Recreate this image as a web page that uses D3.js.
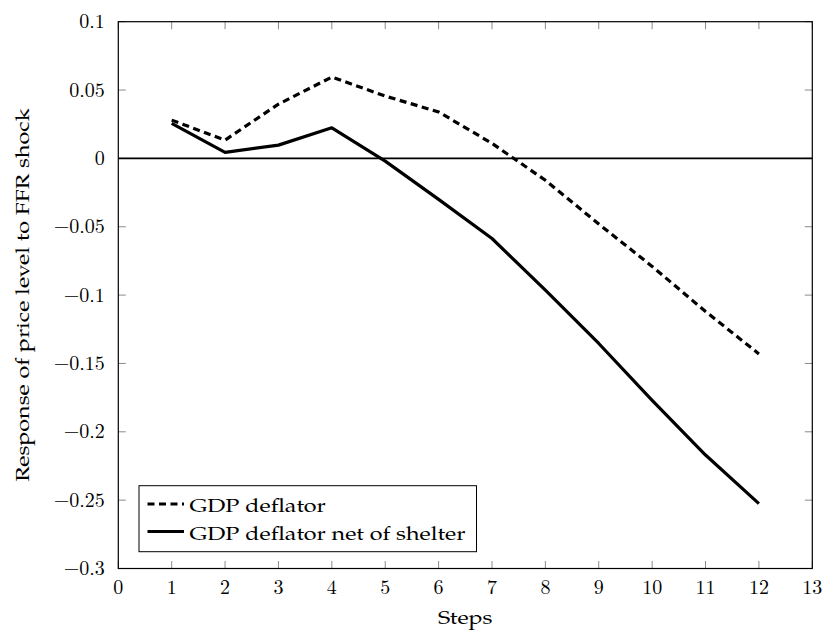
<!DOCTYPE html>
<html><head><meta charset="utf-8">
<script src="https://cdn.jsdelivr.net/npm/d3@7"></script>
<style>body{margin:0;background:#fff}</style>
</head><body>
<svg id="c" width="828" height="630"></svg>
<script>
const steps = [1,2,3,4,5,6,7,8,9,10,11,12];
const gdpDeflator = [0.028,0.0134,0.0397,0.0595,0.0456,0.034,0.011,-0.016,-0.048,-0.079,-0.112,-0.143];
const gdpNetShelter = [0.0256,0.0044,0.0097,0.0224,-0.002,-0.030,-0.0586,-0.0964,-0.1354,-0.177,-0.217,-0.2525];
const xTicks = d3.range(0,14);
const yTicks = [0.1,0.05,0,-0.05,-0.1,-0.15,-0.2,-0.25,-0.3];
const seriesNames = ["GDP deflator","GDP deflator net of shelter"];
const xLabel = "Steps";
const yLabel = "Response of price level to FFR shock";

const mathFont = "'Latin Modern Math','Latin Modern Roman','CMU Serif','Liberation Serif',serif";
const textFont = "'TeX Gyre Pagella','Palatino Linotype','URW Palladio L','P052','DejaVu Serif',serif";
const svg = d3.select("#c");
const L=118.3,R=812.3,T=21.7,B=568.5;
const x = d3.scaleLinear().domain([0,13]).range([L,R]);
const y = d3.scaleLinear().domain([-0.3,0.1]).range([B,T]);
const fmt = v => (v<0?"\u2212":"") + d3.format("")(Math.abs(+v.toFixed(3)));

const g = svg.append("g");
const tickLen=7.5, tickCol="#8a8a8a";
xTicks.forEach(t=>{
  g.append("line").attr("x1",x(t)).attr("x2",x(t)).attr("y1",B).attr("y2",B-tickLen).attr("stroke",tickCol).attr("stroke-width",1);
  g.append("line").attr("x1",x(t)).attr("x2",x(t)).attr("y1",T).attr("y2",T+tickLen).attr("stroke",tickCol).attr("stroke-width",1);
  g.append("text").attr("x",x(t)).attr("y",B+25).attr("text-anchor","middle").attr("font-family",mathFont).attr("font-size",20).text(t);
});
yTicks.forEach(t=>{
  g.append("line").attr("x1",L).attr("x2",L+tickLen).attr("y1",y(t)).attr("y2",y(t)).attr("stroke",tickCol).attr("stroke-width",1);
  g.append("line").attr("x1",R).attr("x2",R-tickLen).attr("y1",y(t)).attr("y2",y(t)).attr("stroke",tickCol).attr("stroke-width",1);
  g.append("text").attr("x",L-13.5).attr("y",y(t)+6.6).attr("text-anchor","end").attr("font-family",mathFont).attr("font-size",20).text(fmt(t));
});
g.append("rect").attr("x",L).attr("y",T).attr("width",R-L).attr("height",B-T).attr("fill","none").attr("stroke","#000").attr("stroke-width",1.2);
g.append("line").attr("x1",L).attr("x2",R).attr("y1",y(0)).attr("y2",y(0)).attr("stroke","#000").attr("stroke-width",1.6);

const line = d3.line().x((d,i)=>x(steps[i])).y(d=>y(d));
g.append("path").datum(gdpDeflator).attr("d",line).attr("fill","none").attr("stroke","#000").attr("stroke-width",3.2).attr("stroke-dasharray","7,4.5");
g.append("path").datum(gdpNetShelter).attr("d",line).attr("fill","none").attr("stroke","#000").attr("stroke-width",3.2).attr("stroke-linejoin","round");

// legend
const fs = 19;
const lg = svg.append("g");
lg.append("rect").attr("x",139).attr("y",485.7).attr("width",337.5).attr("height",66).attr("fill","#fff").attr("stroke","#000").attr("stroke-width",1);
const rows=[504,531.5];
const texts=[];
seriesNames.forEach((n,i)=>{
  lg.append("line").attr("x1",147.5).attr("x2",184).attr("y1",rows[i]).attr("y2",rows[i]).attr("stroke","#000").attr("stroke-width",3.2).attr("stroke-dasharray",i===0?"7,4.5":null);
  texts.push(lg.append("text").attr("x",189.5).attr("y",rows[i]+8.2).attr("font-family",textFont).attr("font-size",fs).text(n));
});
const xl = svg.append("text").attr("x",(L+R)/2).attr("y",624).attr("text-anchor","middle").attr("font-family",textFont).attr("font-size",fs).text(xLabel);
const yl = svg.append("text").attr("transform",`translate(28.5,${(T+B)/2}) rotate(-90)`).attr("text-anchor","middle").attr("font-family",textFont).attr("font-size",fs).text(yLabel);
const k = 276 / texts[1].node().getComputedTextLength();
[texts[0],texts[1],xl,yl].forEach(t=>{
  const w = t.node().getComputedTextLength()*k;
  t.attr("textLength",w).attr("lengthAdjust","spacingAndGlyphs");
});
</script>
</body></html>
